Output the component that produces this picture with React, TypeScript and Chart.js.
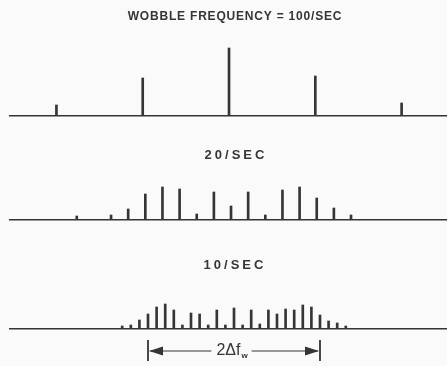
import React, { useEffect, useRef } from "react";
import { Chart, registerables } from "chart.js";

Chart.register(...registerables);

// ---- text ----
const TITLE_100 = "WOBBLE FREQUENCY = 100/SEC";
const TITLE_20 = "20/SEC";
const TITLE_10 = "10/SEC";
const BRACKET_LABEL = "2\u0394f";
const BRACKET_SUB = "w";

// ---- data: sideband offset (Hz) and relative amplitude ----
const FREQ_100 = [-200, -100, 0, 100, 200];
const AMP_100 = [11, 38, 68, 40, 13];

const FREQ_20 = [-180, -140, -120, -100, -80, -60, -40, -20, 0, 20, 40, 60, 80, 100, 120, 140];
const AMP_20 = [4, 5, 11, 26, 33, 31, 6, 28, 14, 28, 5, 30, 33, 22, 12, 5];

const FREQ_10 = [-130, -120, -110, -100, -90, -80, -70, -60, -50, -40, -30, -20, -10, 0, 10, 20, 30, 40, 50, 60, 70, 80, 90, 100, 110, 120, 130];
const AMP_10 = [3, 4, 9, 15, 22, 25, 19, 4, 16, 15, 4, 19, 4, 21, 4, 19, 5, 19, 15, 20, 19, 24, 22, 14, 8, 6, 3];

// 2Δf span (Hz)
const BRACKET_FROM = -100;
const BRACKET_TO = 100;

const INK = "#353535";
const BG = "#fafafa";

const titlePlugin = {
  id: "panelTitle",
  afterDraw(chart: any, _args: any, opts: any) {
    if (!opts || !opts.text) return;
    const ctx = chart.ctx;
    ctx.save();
    ctx.font = opts.font;
    (ctx as any).letterSpacing = opts.spacing || "0px";
    ctx.fillStyle = INK;
    ctx.textAlign = "center";
    ctx.textBaseline = "middle";
    ctx.fillText(opts.text, opts.x, opts.y);
    ctx.restore();
  },
};

const bracketPlugin = {
  id: "bracket",
  afterDraw(chart: any, _args: any, opts: any) {
    if (!opts || !opts.show) return;
    const ctx = chart.ctx;
    const xs = chart.scales.x;
    const x1 = xs.getPixelForValue(opts.from);
    const x2 = xs.getPixelForValue(opts.to);
    const yMid = opts.y;
    ctx.save();
    ctx.strokeStyle = INK;
    ctx.fillStyle = INK;
    ctx.lineWidth = 1.8;
    // end ticks
    ctx.beginPath();
    ctx.moveTo(x1, yMid - 11);
    ctx.lineTo(x1, yMid + 10);
    ctx.moveTo(x2, yMid - 11);
    ctx.lineTo(x2, yMid + 10);
    ctx.stroke();
    // label
    const mainFont = '16px "Liberation Sans"';
    const subFont = 'bold 8px "Liberation Sans"';
    ctx.textBaseline = "middle";
    ctx.textAlign = "left";
    const cx = (x1 + x2) / 2 - 2;
    ctx.font = mainFont;
    const mainW = ctx.measureText(opts.label).width;
    ctx.font = subFont;
    const subW = ctx.measureText(opts.sub).width;
    const totalW = mainW + subW + 1;
    const tx = cx - totalW / 2;
    ctx.font = mainFont;
    ctx.fillText(opts.label, tx, yMid);
    ctx.font = subFont;
    ctx.fillText(opts.sub, tx + mainW + 1, yMid + 5);
    // lines
    ctx.lineWidth = 1.2;
    ctx.beginPath();
    ctx.moveTo(x1 + 2, yMid);
    ctx.lineTo(tx - 5, yMid);
    ctx.moveTo(tx + totalW + 4, yMid);
    ctx.lineTo(x2 - 2, yMid);
    ctx.stroke();
    // arrow heads
    ctx.beginPath();
    ctx.moveTo(x1 + 1, yMid);
    ctx.lineTo(x1 + 15, yMid - 4.5);
    ctx.lineTo(x1 + 15, yMid + 4.5);
    ctx.closePath();
    ctx.fill();
    ctx.beginPath();
    ctx.moveTo(x2 - 1, yMid);
    ctx.lineTo(x2 - 15, yMid - 4.5);
    ctx.lineTo(x2 - 15, yMid + 4.5);
    ctx.closePath();
    ctx.fill();
    ctx.restore();
  },
};

type PanelCfg = {
  freqs: number[];
  amps: number[];
  xMin: number;
  xMax: number;
  yMax: number;
  padTop: number;
  padBottom: number;
  title: string;
  titleFont: string;
  titleSpacing: string;
  titleX: number;
  titleY: number;
  bracket?: boolean;
  bracketY?: number;
};

function makeChart(canvas: HTMLCanvasElement, p: PanelCfg) {
  return new Chart(canvas, {
    type: "bar",
    data: {
      datasets: [
        {
          data: p.freqs.map((f, i) => ({ x: f, y: p.amps[i] })),
          backgroundColor: INK,
          borderWidth: 0,
          barThickness: 2,
        },
      ],
    },
    options: {
      animation: false,
      responsive: false,
      maintainAspectRatio: false,
      layout: { padding: { left: 10, right: 0, top: p.padTop, bottom: p.padBottom } },
      scales: {
        x: {
          type: "linear",
          min: p.xMin,
          max: p.xMax,
          offset: false,
          grid: { display: false, drawTicks: false },
          ticks: { display: false },
          border: { display: true, color: INK, width: 1.6 },
        },
        y: {
          display: false,
          min: 0,
          max: p.yMax,
        },
      },
      plugins: {
        legend: { display: false },
        tooltip: { enabled: false },
        title: { display: false },
        panelTitle: {
          text: p.title,
          font: p.titleFont,
          spacing: p.titleSpacing,
          x: p.titleX,
          y: p.titleY,
        },
        bracket: {
          show: !!p.bracket,
          from: BRACKET_FROM,
          to: BRACKET_TO,
          y: p.bracketY,
          label: BRACKET_LABEL,
          sub: BRACKET_SUB,
        },
      } as any,
    },
    plugins: [titlePlugin, bracketPlugin],
  });
}

const W = 447;

export default function App() {
  const r1 = useRef<HTMLCanvasElement>(null);
  const r2 = useRef<HTMLCanvasElement>(null);
  const r3 = useRef<HTMLCanvasElement>(null);

  useEffect(() => {
    const charts: Chart[] = [];
    if (r1.current)
      charts.push(
        makeChart(r1.current, {
          freqs: FREQ_100,
          amps: AMP_100,
          xMin: -253.8,
          xMax: 252.6,
          yMax: 75,
          padTop: 41,
          padBottom: 14,
          title: TITLE_100,
          titleFont: 'bold 12px "Liberation Sans"',
          titleSpacing: "0.8px",
          titleX: 235,
          titleY: 17,
        })
      );
    if (r2.current)
      charts.push(
        makeChart(r2.current, {
          freqs: FREQ_20,
          amps: AMP_20,
          xMin: -257.9,
          xMax: 252,
          yMax: 40,
          padTop: 50,
          padBottom: 20,
          title: TITLE_20,
          titleFont: 'bold 13px "Liberation Sans"',
          titleSpacing: "3px",
          titleX: 236,
          titleY: 25,
        })
      );
    if (r3.current)
      charts.push(
        makeChart(r3.current, {
          freqs: FREQ_10,
          amps: AMP_10,
          xMin: -260.5,
          xMax: 247.7,
          yMax: 30,
          padTop: 59,
          padBottom: 37,
          title: TITLE_10,
          titleFont: 'bold 13px "Liberation Sans"',
          titleSpacing: "3px",
          titleX: 235,
          titleY: 25,
          bracket: true,
          bracketY: 111,
        })
      );
    return () => charts.forEach((c) => c.destroy());
  }, []);

  const wrap = (top: number, h: number): React.CSSProperties => ({
    position: "absolute",
    left: 0,
    top,
    width: W,
    height: h,
  });

  return (
    <div style={{ position: "absolute", left: 0, top: 0, width: W, height: 366, background: BG, overflow: "hidden" }}>
      <div style={wrap(0, 130)}>
        <canvas ref={r1} width={W} height={130} />
      </div>
      <div style={wrap(130, 110)}>
        <canvas ref={r2} width={W} height={110} />
      </div>
      <div style={wrap(240, 126)}>
        <canvas ref={r3} width={W} height={126} />
      </div>
    </div>
  );
}
